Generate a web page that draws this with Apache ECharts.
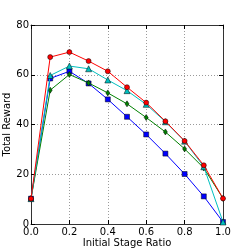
<!DOCTYPE html>
<html><head><meta charset="utf-8">
<script src="https://cdn.jsdelivr.net/npm/echarts@6/dist/echarts.min.js"></script>
<style>html,body{margin:0;padding:0;background:#fff}#c{width:249px;height:249px}</style>
</head><body><div id="c"></div>
<script>
var xValues = [0.0, 0.1, 0.2, 0.3, 0.4, 0.5, 0.6, 0.7, 0.8, 0.9, 1.0];
var redValues = [10.2, 67.1, 69.1, 65.5, 61.4, 55.0, 48.8, 41.3, 33.4, 23.6, 10.3];
var cyanValues = [10.2, 59.7, 63.5, 62.4, 57.9, 53.6, 48.1, 41.1, 33.3, 23.0, 0.8];
var blueValues = [10.2, 58.5, 61.4, 56.5, 50.1, 43.1, 36.0, 28.3, 20.1, 11.1, 0.8];
var greenValues = [10.2, 53.8, 60.1, 56.7, 52.7, 48.3, 42.8, 37.0, 30.2, 22.5, 10.3];
var xTicks = [0.0, 0.2, 0.4, 0.6, 0.8, 1.0];
var yTicks = [0, 20, 40, 60, 80];

function pairs(v){ return xValues.map(function(x,i){return [x, v[i]];}); }
var font = 'DejaVu Sans';
function mk(name, data, color, symbol, size, z){
  return {name:name, type:'line', data:pairs(data), symbol:symbol, symbolSize:size,
    lineStyle:{color:color, width:1}, itemStyle:{color:color, borderColor:'#000', borderWidth:0.5},
    z:z, animation:false};
}
var chart = echarts.init(document.getElementById('c'), null, {renderer:'canvas'});
var axisLineStyle = {color:'#333', width:1};
chart.setOption({
  animation:false,
  grid:{left:31, right:26, top:25, bottom:25, show:false, containLabel:false, outerBoundsMode:'none'},
  xAxis:[{type:'value', min:0, max:1, interval:0.2,
    axisLine:{show:true, lineStyle:axisLineStyle},
    axisTick:{show:true, inside:true, length:4, lineStyle:{color:'#000'}},
    axisLabel:{fontFamily:font, fontSize:10, color:'#000', margin:3, formatter:function(v){return v.toFixed(1);}},
    splitLine:{show:true, lineStyle:{color:'#555', type:[1,2], width:0.6}},
    name:'Initial Stage Ratio', nameLocation:'middle', nameGap:14, nameMoveOverlap:false,
    nameTextStyle:{fontFamily:font, fontSize:10, color:'#000'}},
   {type:'value', position:'top', min:0, max:1, interval:0.2,
    axisLine:{show:true, onZero:false, lineStyle:axisLineStyle},
    axisTick:{show:true, inside:true, length:4, lineStyle:{color:'#000'}},
    axisLabel:{show:false}, splitLine:{show:false}}],
  yAxis:[{type:'value', min:0, max:80, interval:20,
    axisLine:{show:true, lineStyle:axisLineStyle},
    axisTick:{show:true, inside:true, length:4, lineStyle:{color:'#000'}},
    axisLabel:{fontFamily:font, fontSize:10, color:'#000', margin:2},
    splitLine:{show:true, lineStyle:{color:'#555', type:[1,2], width:0.6}},
    name:'Total Reward', nameLocation:'middle', nameGap:19, nameMoveOverlap:false,
    nameTextStyle:{fontFamily:font, fontSize:10, color:'#000'}},
   {type:'value', position:'right', min:0, max:80, interval:20,
    axisLine:{show:true, onZero:false, lineStyle:axisLineStyle},
    axisTick:{show:true, inside:true, length:4, lineStyle:{color:'#000'}},
    axisLabel:{show:false}, splitLine:{show:false}}],
  series:[
    mk('blue', blueValues, '#0000ff', 'rect', 5, 2),
    mk('green', greenValues, '#008000', 'diamond', [4,6], 3),
    mk('cyan', cyanValues, '#00bfbf', 'triangle', 6, 4),
    mk('red', redValues, '#ff0000', 'circle', 5, 5)
  ]
});
</script></body></html>
